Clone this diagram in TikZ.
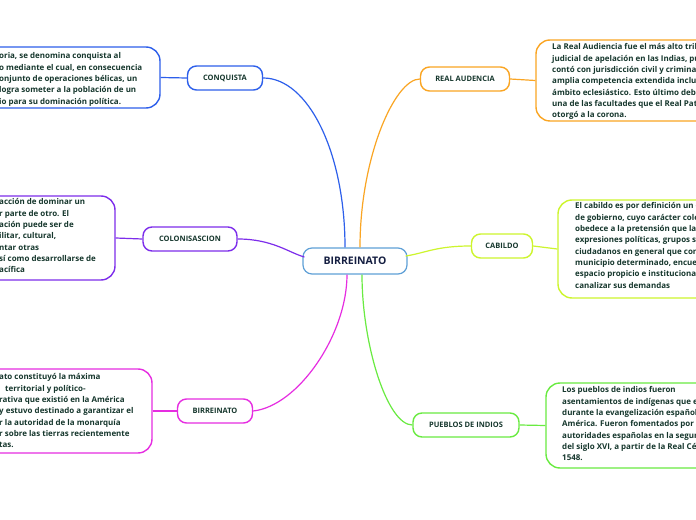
\documentclass[tikz,border=0pt]{standalone}
\usepackage{fontspec}
\setmainfont{Open Sans}
\definecolor{cblue}{RGB}{45,95,235}
\definecolor{cpurple}{RGB}{125,45,235}
\definecolor{cmag}{RGB}{230,45,225}
\definecolor{corange}{RGB}{250,165,35}
\definecolor{cyel}{RGB}{205,245,45}
\definecolor{cgreen}{RGB}{105,235,65}
\definecolor{ccenter}{RGB}{95,160,215}
\definecolor{ctext}{RGB}{22,55,45}
\definecolor{cnavy}{RGB}{20,30,65}
\tikzset{
  branch/.style={draw, rounded corners=9bp, line width=1.4bp, fill=white, minimum height=24bp, inner sep=0pt, font=\fontsize{7.5}{8}\selectfont\bfseries, text=ctext},
  bigbox/.style={draw, rounded corners=14bp, line width=1.4bp, inner sep=0pt},
  para/.style={align=left, anchor=north west, inner sep=0pt, font=\fontsize{8}{11.4}\selectfont\bfseries, text=ctext},
  link/.style={line width=1.2bp}
}
\begin{document}
\begin{tikzpicture}[x=1bp,y=-1bp]
\useasboundingbox (0,0) rectangle (696,520);
\clip (0,0) rectangle (696,520);
\fill[white] (0,0) rectangle (696,520);

% center
\node[draw=ccenter, line width=1.2bp, rounded corners=9bp, fill=white, minimum width=104bp, minimum height=26bp, inner sep=0pt, font=\fontsize{10.5}{11}\selectfont\bfseries, text=cnavy] (c) at (355,261) {BIRREINATO};

% branches
\node[branch, draw=cblue, minimum width=75bp] (n1) at (225,78) {CONQUISTA};
\node[branch, draw=cpurple, minimum width=94bp] (n2) at (190,239) {COLONISASCION};
\node[branch, draw=cmag, minimum width=75bp] (n3) at (215,411) {BIRREINATO};
\node[branch, draw=corange, minimum width=89bp] (n4) at (465,79) {REAL AUDENCIA};
\node[branch, draw=cyel, minimum width=61bp] (n5) at (502,246) {CABILDO};
\node[branch, draw=cgreen, minimum width=106bp] (n6) at (466,425) {PUEBLOS DE INDIOS};

% big boxes
\node[bigbox, draw=cblue, minimum width=180bp, minimum height=61bp] (b1) at (70,77.5) {};
\node[bigbox, draw=cpurple, minimum width=135bp, minimum height=84bp] (b2) at (47.5,238) {};
\node[bigbox, draw=cmag, minimum width=172bp, minimum height=84bp] (b3) at (66,411) {};
\node[bigbox, draw=corange, minimum width=184bp, minimum height=81bp] (b4) at (628,80.5) {};
\node[bigbox, draw=cyel, minimum width=162bp, minimum height=98bp] (b5) at (639,249) {};
\node[bigbox, draw=cgreen, minimum width=174bp, minimum height=85bp] (b6) at (633,425.5) {};

% texts
\node[para] (t1) at (-1,52.5) {oria, se denomina conquista al\\o mediante el cual, en consecuencia\\onjunto de operaciones bélicas, un\\ logra someter a la población de un\\io para su dominación política.};
\node[para] (t2) at (-1,198.5) {acción de dominar un\\r parte de otro. El\\ación puede ser de\\ilitar, cultural,\\ntar otras\\sí como desarrollarse de\\acífica};
\node[para] (t3) at (-1,373.5) {ato constituyó la máxima\\\hspace*{6bp}territorial y político-\\rativa que existió en la América\\y estuvo destinado a garantizar el\\r la autoridad de la monarquía\\r sobre las tierras recientemente\\tas.};
\node[para] (t4) at (552,43.5) {La Real Audiencia fue el más alto tribunal\\judicial de apelación en las Indias, pues\\contó con jurisdicción civil y criminal,\\amplia competencia extendida incluso al\\ámbito eclesiástico. Esto último debido a\\una de las facultades que el Real Patronato\\otorgó a la corona.};
\node[para] (t5) at (575,202.5) {El cabildo es por definición un órgano\\de gobierno, cuyo carácter colegiado\\obedece a la pretensión que las\\expresiones políticas, grupos sociales y\\ciudadanos en general que conforman un\\municipio determinado, encuentren un\\espacio propicio e institucional para\\canalizar sus demandas};
\node[para] (t6) at (562,386.5) {Los pueblos de indios fueron\\asentamientos de indígenas que existieron\\durante la evangelización española en\\América. Fueron fomentados por las\\autoridades españolas en la segunda mitad\\del siglo XVI, a partir de la Real Cédula de\\1548.};

% connectors
\draw[link, cblue] (b1.east) -- (n1.west);
\draw[link, cblue] (n1.east) .. controls +(45,0) and +(0,-95) .. ([xshift=-10bp]c.north);
\draw[link, corange] (b4.west) -- (n4.east);
\draw[link, corange] (n4.west) .. controls +(-25,0) and +(0,-90) .. ([xshift=5bp]c.north);
\draw[link, cpurple] (b2.east) -- (n2.west);
\draw[link, cpurple] (n2.east) .. controls +(35,0) and +(-15,-4) .. ([xshift=2bp,yshift=4bp]c.west);
\draw[link, cyel] (b5.west) -- (n5.east);
\draw[link, cyel] (n5.west) .. controls +(-35,0) and +(20,-3) .. ([xshift=-2bp,yshift=5bp]c.east);
\draw[link, cmag] (b3.east) -- (n3.west);
\draw[link, cmag] (n3.east) .. controls +(45,-5) and +(0,60) .. ([xshift=-8bp]c.south);
\draw[link, cgreen] (b6.west) -- (n6.east);
\draw[link, cgreen] (n6.west) .. controls +(-25,0) and +(0,70) .. ([xshift=7bp]c.south);
\end{tikzpicture}
\end{document}
